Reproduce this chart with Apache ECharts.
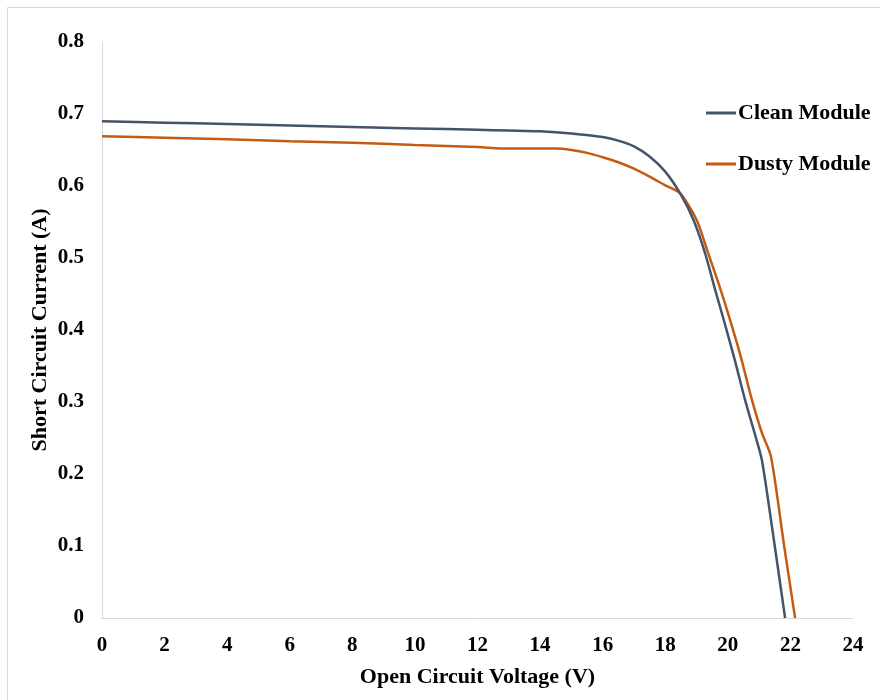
<!DOCTYPE html>
<html>
<head>
<meta charset="utf-8">
<style>
  html, body { margin: 0; padding: 0; background: #fff; }
  #chart { width: 880px; height: 700px; }
</style>
<script src="https://cdn.jsdelivr.net/npm/echarts@6/dist/echarts.min.js"></script>
</head>
<body>
<div id="chart"></div>
<script>
// I-V curves of a PV module, clean vs. dusty surface
const seriesNames = ['Clean Module', 'Dusty Module'];

const cleanVoltage = [0, 2, 4, 6, 8, 10, 12, 13, 14, 15, 16, 16.5, 17, 17.5, 18, 18.5, 18.9, 19.27, 19.6, 19.85, 20.2, 20.55, 20.9, 21.09, 21.4, 21.83];
const cleanCurrent = [0.690, 0.688, 0.686, 0.684, 0.682, 0.680, 0.678, 0.677, 0.676, 0.673, 0.668, 0.663, 0.655, 0.641, 0.620, 0.588, 0.553, 0.507, 0.455, 0.417, 0.362, 0.303, 0.250, 0.219, 0.130, 0];

const dustyVoltage = [0, 2, 4, 6, 8, 10, 12, 13, 14, 14.5, 15, 15.5, 16, 16.5, 17, 17.5, 18, 18.47, 19.0, 19.37, 19.7, 20.0, 20.4, 20.77, 21.09, 21.38, 21.8, 22.15];
const dustyCurrent = [0.669, 0.667, 0.665, 0.662, 0.660, 0.657, 0.654, 0.652, 0.652, 0.652, 0.650, 0.646, 0.640, 0.633, 0.624, 0.613, 0.601, 0.590, 0.553, 0.507, 0.465, 0.424, 0.365, 0.303, 0.257, 0.224, 0.100, 0];

const xTitle = 'Open Circuit Voltage (V)';
const yTitle = 'Short Circuit Current (A)';

const pair = (xs, ys) => xs.map((x, i) => [x, ys[i]]);

const FONT = '"Liberation Serif", "Times New Roman", serif';
const axisGray = '#d9d9d9';

const chart = echarts.init(document.getElementById('chart'), null, { renderer: 'canvas' });
chart.setOption({
  animation: false,
  backgroundColor: '#ffffff',
  textStyle: { fontFamily: FONT },
  graphic: [{
    type: 'rect',
    shape: { x: 7.5, y: 7.5, width: 900, height: 720 },
    style: { fill: 'none', stroke: axisGray, lineWidth: 1 },
    silent: true
  }],
  grid: { left: 102, right: 27, top: 42, bottom: 82, containLabel: false },
  legend: {
    orient: 'vertical',
    left: 706,
    top: 102,
    padding: 0,
    itemWidth: 30,
    itemHeight: 3,
    itemGap: 29,
    icon: 'rect',
    textStyle: { fontFamily: FONT, fontWeight: 'bold', fontSize: 22, color: '#000', padding: [0, 0, 0, -3] },
    data: seriesNames
  },
  xAxis: {
    type: 'value',
    min: 0, max: 24, interval: 2,
    name: xTitle,
    nameLocation: 'middle',
    nameGap: 48,
    nameTextStyle: { fontFamily: FONT, fontWeight: 'bold', fontSize: 22, color: '#000' },
    axisLine: { show: true, lineStyle: { color: axisGray, width: 1 } },
    axisTick: { show: false },
    splitLine: { show: false },
    axisLabel: { fontFamily: FONT, fontWeight: 'bold', fontSize: 21, color: '#000', margin: 17 }
  },
  yAxis: {
    type: 'value',
    min: 0, max: 0.8, interval: 0.1,
    name: yTitle,
    nameLocation: 'middle',
    nameGap: 51,
    nameMoveOverlap: false,
    nameTextStyle: { fontFamily: FONT, fontWeight: 'bold', fontSize: 22, color: '#000' },
    axisLine: { show: true, lineStyle: { color: axisGray, width: 1 } },
    axisTick: { show: false },
    splitLine: { show: false },
    axisLabel: { fontFamily: FONT, fontWeight: 'bold', fontSize: 21, color: '#000', margin: 18 }
  },
  series: [
    {
      name: seriesNames[0],
      type: 'line',
      data: pair(cleanVoltage, cleanCurrent),
      showSymbol: false,
      smooth: 0.25,
      color: '#44546A',
      lineStyle: { width: 2.5, color: '#44546A' },
      z: 3
    },
    {
      name: seriesNames[1],
      type: 'line',
      data: pair(dustyVoltage, dustyCurrent),
      showSymbol: false,
      smooth: 0.25,
      color: '#C55A11',
      lineStyle: { width: 2.5, color: '#C55A11' },
      z: 2
    }
  ]
});
</script>
</body>
</html>
